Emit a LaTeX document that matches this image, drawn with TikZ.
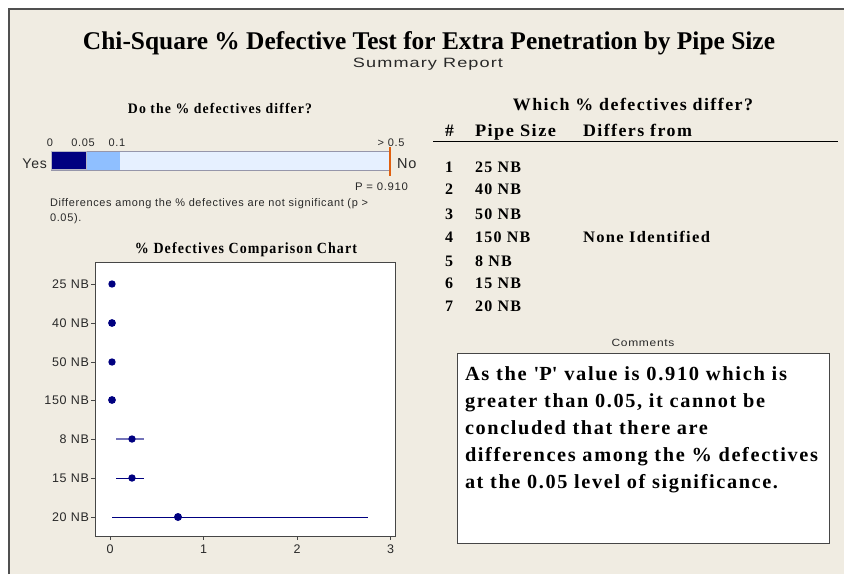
\documentclass[tikz,border=0pt]{standalone}
\usepackage{fontspec}
\usepackage{graphicx}
\setmainfont{Liberation Serif}
\setsansfont{Liberation Sans}
\newfontfamily\tbs{Liberation Serif}[LetterSpace=8]
\newfontfamily\sfs{Liberation Sans}[LetterSpace=6]
\definecolor{bg}{RGB}{240,236,226}
\definecolor{framecol}{RGB}{80,80,80}
\definecolor{navyc}{RGB}{0,0,128}
\definecolor{lblue}{RGB}{143,191,255}
\definecolor{vlblue}{RGB}{230,240,255}
\definecolor{barbord}{RGB}{150,150,170}
\definecolor{orangec}{RGB}{224,96,16}
\definecolor{boxcol}{RGB}{70,70,70}
\definecolor{txtgray}{RGB}{40,40,40}
\newcommand\BT[3]{\resizebox{#1pt}{\height}{\tbs\bfseries\fontsize{#2}{#2}\selectfont #3}}
\newcommand\ST[3]{\resizebox{#1pt}{\height}{\sfs\fontsize{#2}{#2}\selectfont #3}}
\newcommand\BN[2]{{\tbs\bfseries\fontsize{#1}{#1}\selectfont #2}}
\newcommand\SN[2]{{\sfs\fontsize{#1}{#1}\selectfont #2}}
\begin{document}
\begin{tikzpicture}[x=1pt,y=-1pt,
  every node/.style={inner sep=0pt,outer sep=0pt},
  sanslab/.style={text=txtgray},
  axisline/.style={draw=boxcol,line width=0.9pt},
  dotmark/.style={fill=navyc},
  errbar/.style={draw=navyc,line width=1pt}]
\useasboundingbox (0,0) rectangle (844,574);
\fill[white] (0,0) rectangle (844,574);
\fill[bg] (9,9) rectangle (844,574);
\draw[framecol,line width=2pt] (9,574) -- (9,9) -- (844,9);

% title
\node[anchor=base] (title) at (429,49) {\resizebox{692pt}{\height}{\bfseries\fontsize{25.5}{25.5}\selectfont Chi-Square \% Defective Test for Extra Penetration by Pipe Size}};
\node[anchor=base,sanslab] (subtitle) at (428,67.5) {\ST{150}{13.5}{Summary Report}};

% left: do the % defectives differ
\node[anchor=base] (q1) at (220,113) {\BT{184}{14.5}{Do the \% defectives differ?}};
\node[anchor=base,sanslab] (s0) at (50,146.5) {\SN{11}{0}};
\node[anchor=base,sanslab] (s1) at (83,146.5) {\SN{11}{0.05}};
\node[anchor=base,sanslab] (s2) at (117,146.5) {\SN{11}{0.1}};
\node[anchor=base,sanslab] (s3) at (391,146.5) {\SN{11}{> 0.5}};
\fill[navyc] (51,151) rectangle (86,170);
\fill[lblue] (86,151) rectangle (120,170);
\fill[vlblue] (120,151) rectangle (389,170);
\draw[barbord,line width=0.8pt] (51,151) rectangle (389,170);
\draw[barbord!70,line width=0.6pt] (51.5,151.5) rectangle (86,169.5);
\draw[orangec,line width=2.6pt] (390,147) -- (390,176);
\node[anchor=base east,sanslab] (yes) at (47,168) {\SN{14}{Yes}};
\node[anchor=base west,sanslab] (no) at (397,168) {\SN{14.5}{No}};
\node[anchor=base east,sanslab] (pval) at (408,190.5) {\ST{53}{11}{P = 0.910}};
\node[anchor=base west,sanslab] (diff1) at (50,206) {\ST{318}{11}{Differences among the \% defectives are not significant (p >}};
\node[anchor=base west,sanslab] (diff2) at (50,221) {\SN{11}{0.05).}};

% comparison chart
\node[anchor=base] (ctitle) at (246,253) {\BT{222}{15.5}{\% Defectives Comparison Chart}};
\draw[boxcol,fill=white,line width=1pt] (95,262) rectangle (395,536);
\foreach \lab/\yy [count=\i] in {25 NB/284,40 NB/323,50 NB/362,150 NB/400,8 NB/439,15 NB/478,20 NB/517}{
  \node[anchor=base east,sanslab] (yl\i) at (89,\yy+4.5) {\SN{12.5}{\lab}};
  \draw[axisline] (91,\yy) -- (95,\yy);
}
\foreach \v/\xx [count=\i] in {0/110,1/203.5,2/297,3/390.5}{
  \draw[axisline] (\xx,536) -- (\xx,540);
  \node[anchor=base,sanslab] (xl\i) at (\xx,553) {\SN{12.5}{\v}};
}
% error bars
\draw[navyc!55,line width=1.8pt] (116,439) -- (144,439);
\draw[errbar] (116,478) -- (144,478);
\draw[errbar] (112,517) -- (368,517);
% points
\fill[dotmark] (112,284) circle (3.7pt);
\fill[dotmark] (112,323) circle (3.9pt);
\fill[dotmark] (112,362) circle (3.7pt);
\fill[dotmark] (112,400) circle (3.9pt);
\fill[dotmark] (132,439) circle (3.7pt);
\fill[dotmark] (132,478) circle (3.7pt);
\fill[dotmark] (178,517) circle (4pt);

% right: which differ
\node[anchor=base] (q2) at (633,110) {\BT{240}{17.5}{Which \% defectives differ?}};
\node[anchor=base west] (hnum) at (445,136) {\BN{17.5}{\#}};
\node[anchor=base west] (hsize) at (475,136) {\BT{81}{17.5}{Pipe Size}};
\node[anchor=base west] (hdiff) at (583,136) {\BT{109}{17.5}{Differs from}};
\draw[black,line width=1pt] (433,141) -- (838,141);
\foreach \nm/\yy [count=\i] in {25 NB/172.5,40 NB/194.5,50 NB/219.5,150 NB/242.5,8 NB/266.5,15 NB/288.5,20 NB/311.5}{
  \node[anchor=base west] (rn\i) at (445,\yy) {\BN{16}{\i}};
  \node[anchor=base west] (rs\i) at (475,\yy) {\BN{16}{\nm}};
}
\node[anchor=base west] (none) at (583,242.5) {\BT{127}{16}{None Identified}};

% comments
\node[anchor=base,sanslab] (clab) at (643,346) {\ST{63}{10.5}{Comments}};
\draw[boxcol,fill=white,line width=1pt] (457,353) rectangle (829,543);
\node[anchor=base west] (c1) at (465,380) {\BT{322}{20}{As the \textquotesingle P\textquotesingle{} value is 0.910 which is}};
\node[anchor=base west] (c2) at (465,407) {\BT{300}{20}{greater than 0.05, it cannot be}};
\node[anchor=base west] (c3) at (465,434) {\BT{243}{20}{concluded that there are}};
\node[anchor=base west] (c4) at (465,461) {\BT{353}{20}{differences among the \% defectives}};
\node[anchor=base west] (c5) at (465,488) {\BT{313}{20}{at the 0.05 level of significance.}};
\end{tikzpicture}
\end{document}
